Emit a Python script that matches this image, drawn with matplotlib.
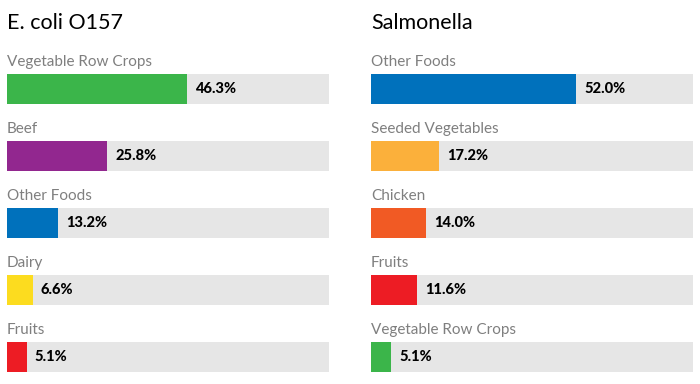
import matplotlib
matplotlib.use("Agg")
import matplotlib.pyplot as plt

plt.rcParams['font.family'] = ['Lato', 'DejaVu Sans']

ecoli_title = "E. coli O157"
ecoli_cats = ["Vegetable Row Crops", "Beef", "Other Foods", "Dairy", "Fruits"]
ecoli_vals = [46.3, 25.8, 13.2, 6.6, 5.1]
ecoli_colors = ["#3BB54A", "#92278F", "#0071BC", "#FCDC1F", "#ED1C24"]

sal_title = "Salmonella"
sal_cats = ["Other Foods", "Seeded Vegetables", "Chicken", "Fruits", "Vegetable Row Crops"]
sal_vals = [52.0, 17.2, 14.0, 11.6, 5.1]
sal_colors = ["#0071BC", "#FBB03B", "#F15A24", "#ED1C24", "#3BB54A"]

W, H = 700, 384
fig = plt.figure(figsize=(W / 100, H / 100), dpi=100)

BAR_H = 30 / 67
px2pt = 72 / 100

def panel(left_px, title, cats, vals, colors, xmax):
    top_px, bot_px = 40, 384
    ax = fig.add_axes([left_px / W, 1 - bot_px / H, 322 / W, (bot_px - top_px) / H])
    n = len(cats)
    ys = list(range(n))
    ax.barh(ys, [xmax] * n, height=BAR_H, color="#E6E6E6", left=0)
    ax.barh(ys, vals, height=BAR_H, color=colors)
    ax.set_xlim(0, xmax)
    ax.set_ylim(4 + (384 - 357) / 67, -(89 - 40) / 67)
    ax.axis('off')
    for y, c, v in zip(ys, cats, vals):
        ax.annotate(c, xy=(0, y - BAR_H / 2), xytext=(0, 8 * px2pt),
                    textcoords='offset points', ha='left', va='baseline',
                    fontsize=11, color='#7F7F7F')
        ax.annotate(f"{v:.1f}%", xy=(v, y), xytext=(8 * px2pt, 0),
                    textcoords='offset points', ha='left', va='center',
                    fontsize=10.5, fontweight='black', color='black')
    fig.text(left_px / W, 1 - 29 / H, title, ha='left', va='baseline',
             fontsize=15.5, color='black', fontweight='normal')

panel(7, ecoli_title, ecoli_cats, ecoli_vals, ecoli_colors, 83.0)
panel(371, sal_title, sal_cats, sal_vals, sal_colors, 81.5)

fig.savefig("out.png", dpi=100, facecolor='white')
